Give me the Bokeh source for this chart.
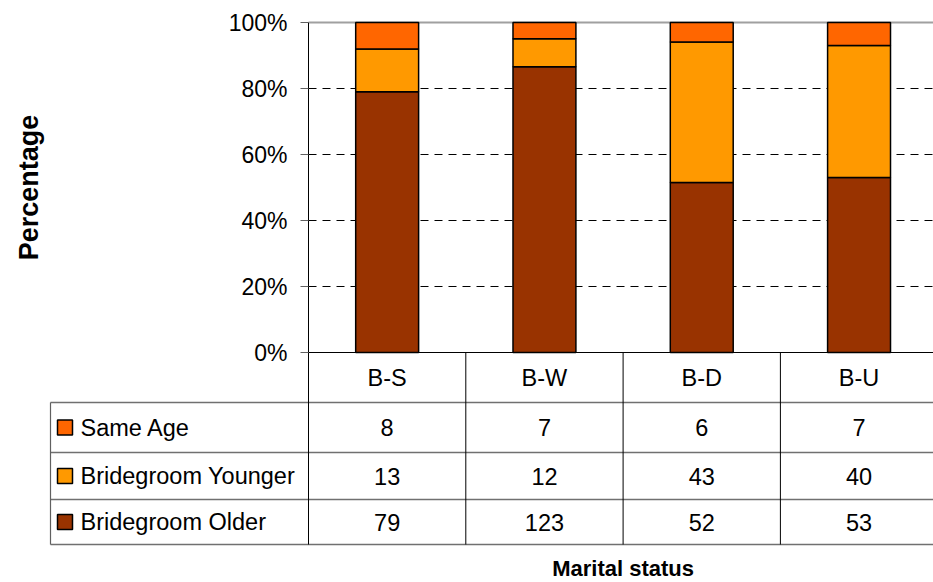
import numpy as np
from bokeh.plotting import figure
from bokeh.models import (Range1d, FixedTicker, NumeralTickFormatter, ColumnDataSource,
                          LinearAxis)
from bokeh.core.properties import value
from bokeh.embed import file_html
from bokeh.resources import INLINE

# ---------------- data ----------------
categories = ["B-S", "B-W", "B-D", "B-U"]
series_names = ["Same Age", "Bridegroom Younger", "Bridegroom Older"]
same_age = [8, 7, 6, 7]
bridegroom_younger = [13, 12, 43, 40]
bridegroom_older = [79, 123, 52, 53]
y_ticks = [0, 0.2, 0.4, 0.6, 0.8, 1.0]
x_title = "Marital status"
y_title = "Percentage"

# ---------------- style / layout constants (pixels) ----------------
colors = {"Same Age": "#FF6600", "Bridegroom Younger": "#FF9900", "Bridegroom Older": "#993300"}
FONT = "Liberation Sans"
W, H = 933, 582
COL_PX = 157.3        # width of one category column
AXIS_X = 308          # x of the value axis
LEGEND_X = 50         # left edge of the table
TOP_Y = 22            # y of 100 %
ZERO_Y = 352          # y of 0 %
TABLE_BOTTOM = 544    # bottom edge of the table
ROW_EDGES = [0, 45, 92, 142, 192]  # table row boundaries above TABLE_BOTTOM (px)

CHART_H = ZERO_Y - TOP_Y
LEFT_COL = (AXIS_X - LEGEND_X) / COL_PX
VISIBLE = (W - AXIS_X) / COL_PX

series_values = {"Same Age": same_age, "Bridegroom Younger": bridegroom_younger,
                 "Bridegroom Older": bridegroom_older}
stack_order = ["Bridegroom Older", "Bridegroom Younger", "Same Age"]  # bottom to top

counts = np.array([series_values[s] for s in stack_order], dtype=float)
fracs = counts / counts.sum(axis=0)
tops = np.cumsum(fracs, axis=0)
bottoms = tops - fracs
xc = np.arange(len(categories)) + 0.5
col_edges = list(range(len(categories)))

p = figure(width=W, height=H,
           x_range=Range1d(-AXIS_X / COL_PX, VISIBLE),
           y_range=Range1d(-(H - ZERO_Y) / CHART_H, 1 + TOP_Y / CHART_H),
           output_backend="svg", toolbar_location=None,
           x_axis_location=None, y_axis_location=None,
           min_border_left=0, min_border_right=0, min_border_top=0, min_border_bottom=0)
p.extra_y_ranges = {"table": Range1d(-(H - TABLE_BOTTOM), TABLE_BOTTOM)}
p.outline_line_color = None
p.grid.visible = False

# ---- value axis at the start of the bar area
yax = LinearAxis(fixed_location=0, bounds=(0, 1),
                 ticker=FixedTicker(ticks=y_ticks, minor_ticks=[]),
                 formatter=NumeralTickFormatter(format="0%"))
yax.major_label_text_font = FONT
yax.major_label_text_font_size = "23px"
yax.major_label_text_color = "black"
yax.major_label_standoff = 13
yax.major_tick_out = 8
yax.major_tick_in = 0
yax.minor_tick_out = 0
yax.major_tick_line_color = "#606060"
yax.axis_line_color = "black"
yax.axis_label = y_title
yax.axis_label_text_font = FONT
yax.axis_label_text_font_size = "27px"
yax.axis_label_text_font_style = "bold"
yax.axis_label_text_color = "black"
yax.axis_label_standoff = 182
p.add_layout(yax, "left")

# ---- gridlines over the bar area
inner = y_ticks[1:-1]
p.segment(x0=[0] * len(inner), x1=[VISIBLE] * len(inner), y0=inner, y1=inner,
          line_color="black", line_dash="8 6", line_width=1)
p.segment(x0=[0], x1=[VISIBLE], y0=[y_ticks[-1]], y1=[y_ticks[-1]],
          line_color="#a0a0a0", line_width=2)

# ---- stacked bars
for i, s in enumerate(stack_order):
    src = ColumnDataSource(dict(x=xc, bottom=bottoms[i], top=tops[i]))
    p.vbar(x="x", bottom="bottom", top="top", width=0.4, source=src,
           fill_color=colors[s], line_color="black", line_width=1.5)

# ---- table lines
row_lines = ROW_EDGES[:4]
p.segment(x0=[-LEFT_COL] * len(row_lines), x1=[VISIBLE] * len(row_lines),
          y0=row_lines, y1=row_lines, y_range_name="table",
          line_color="#707070", line_width=1.5)
p.segment(x0=col_edges, x1=col_edges, y0=[ROW_EDGES[0]] * len(col_edges),
          y1=[ROW_EDGES[-1]] * len(col_edges), y_range_name="table",
          line_color="black", line_width=1)
p.segment(x0=[0], x1=[VISIBLE], y0=[ROW_EDGES[-1]], y1=[ROW_EDGES[-1]],
          y_range_name="table", line_color="black", line_width=1.2)
p.segment(x0=[-LEFT_COL], x1=[-LEFT_COL], y0=[ROW_EDGES[0]], y1=[ROW_EDGES[3]],
          y_range_name="table", line_color="#606060", line_width=1.2)

row_center = {
    "header": (ROW_EDGES[3] + ROW_EDGES[4]) / 2,
    "Same Age": (ROW_EDGES[2] + ROW_EDGES[3]) / 2,
    "Bridegroom Younger": (ROW_EDGES[1] + ROW_EDGES[2]) / 2,
    "Bridegroom Older": (ROW_EDGES[0] + ROW_EDGES[1]) / 2,
}

txt = dict(text_font=value(FONT), text_font_size="23.5px", text_color="black",
           text_baseline="middle", y_range_name="table")

p.text(x=xc, y=[row_center["header"]] * len(categories), text=categories,
       text_align="center", **txt)

for s in series_names:
    p.text(x=xc, y=[row_center[s]] * len(categories),
           text=[str(v) for v in series_values[s]], text_align="center", **txt)

p.scatter(x=[-LEFT_COL + 14.5 / COL_PX] * len(series_names),
          y=[row_center[s] for s in series_names], marker="square", size=15,
          fill_color=[colors[s] for s in series_names], line_color="black", line_width=1.5,
          y_range_name="table")
p.text(x=[-LEFT_COL + 30 / COL_PX] * len(series_names), y=[row_center[s] for s in series_names],
       text=series_names, text_align="left", **txt)

# ---- category-axis title, centred under the category columns
p.text(x=[len(categories) / 2], y=[-24], text=[x_title], y_range_name="table",
       text_font=value(FONT), text_font_size="22px", text_font_style="bold",
       text_color="black", text_align="center", text_baseline="middle")

with open("out.html", "w") as f:
    f.write(file_html(p, INLINE))
